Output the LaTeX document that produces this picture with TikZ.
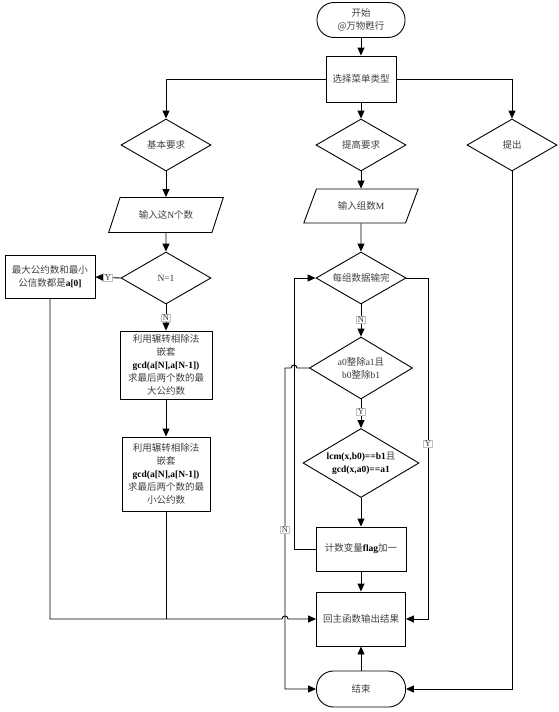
\documentclass[tikz,border=0pt]{standalone}
\usepackage{fontspec}
\setmainfont{Liberation Serif}
\newfontfamily\zhfont{Noto Sans CJK SC}
\newcommand{\zh}[1]{{\zhfont\color{black!75}#1}}
\usetikzlibrary{shapes.geometric,arrows.meta}

\tikzset{
  inicio/.style={draw, rounded corners=17pt, align=center, minimum width=88pt, minimum height=35pt},
  processo/.style={draw, rectangle, align=center, inner sep=2pt},
  decisao/.style={draw, diamond, shape aspect=1.7, inner sep=0pt, align=center},
  entrada/.style={draw, trapezium, trapezium left angle=64, trapezium right angle=116, trapezium stretches=true, minimum width=115pt, minimum height=35pt},
  rotulo/.style={fill=white, draw=black!25, inner sep=1pt, text=black!80, font=\fontsize{8.5}{9}\selectfont},
}

\begin{document}
\begin{tikzpicture}[x=1pt, y=-1pt, line width=0.9pt, >={Triangle[length=8pt,width=7pt]}, font=\fontsize{9.5}{13}\selectfont]  %Fluxograma
  \useasboundingbox (0,0) rectangle (558,712); %Moldura
      %Blocos
  \node[inicio] (ini) at (361,20) {\zh{开始}\\\zh{@万物甦行}};
  \node[processo, minimum width=70pt, minimum height=46pt] (menu) at (361,79) {\zh{选择菜单类型}};
  \node[decisao, minimum width=90pt, minimum height=52pt] (basico) at (166,145) {\zh{基本要求}};
  \node[decisao, minimum width=90pt, minimum height=52pt] (avanc) at (361,145) {\zh{提高要求}};
  \node[decisao, minimum width=90pt, minimum height=52pt] (sair) at (512,145) {\zh{提出}};
      %Coluna esquerda
  \node[entrada] (lerN) at (166,215) {\zh{输入这}\textcolor{black!80}{N}\zh{个数}};
  \node[decisao, minimum width=90pt, minimum height=52pt, text=black!80] (nUm) at (166,278) {N=1};
  \node[processo, minimum width=90pt, minimum height=43pt] (res0) at (50,277) {\zh{最大公约数和最小}\\\zh{公信数都是}\textbf{a[0]}};
  \node[processo, minimum width=92pt, minimum height=68pt] (mdc) at (166,365) {\zh{利用辗转相除法}\\\zh{嵌套}\\\textbf{gcd(a[N],a[N-1])}\\\zh{求最后两个数的最}\\\zh{大公约数}};
  \node[processo, minimum width=88pt, minimum height=74pt] (mmc) at (166,474) {\zh{利用辗转相除法}\\\zh{嵌套}\\\textbf{gcd(a[N],a[N-1])}\\\zh{求最后两个数的最}\\\zh{小公约数}};
      %Coluna central
  \node[entrada, minimum height=34pt] (lerM) at (361,206) {\zh{输入组数}\textcolor{black!80}{M}};
  \node[decisao, minimum width=90pt, minimum height=52pt] (cada) at (361,278) {\zh{每组数据输完}};
  \node[decisao, minimum width=103pt, minimum height=62pt, text=black!80] (divide) at (361,368) {a0\zh{整除}a1\zh{且}\\b0\zh{整除}b1};
  \node[decisao, minimum width=116pt, minimum height=69pt] (lcm) at (361,463) {\textbf{lcm(x,b0)==b1}\zh{且}\\\textbf{gcd(x,a0)==a1}};
  \node[processo, minimum width=90pt, minimum height=44pt] (conta) at (361,549) {\zh{计数变量}\textbf{flag}\zh{加一}};
  \node[processo, minimum width=89pt, minimum height=54pt] (saida) at (361,619) {\zh{回主函数输出结果}};
  \node[inicio, minimum width=89pt, minimum height=36pt] (fim) at (361,689) {\zh{结束}};
      %Pontos auxiliares
  \coordinate (voltaX) at (294,0); %Retorno do laço
  \coordinate (naoX) at (285,0);   %Saida N
  \coordinate (simX) at (428,0);   %Saida Y
  \coordinate (pulo1) at (297,368);
  \coordinate (pulo2) at (282,619);
      %Setas
  \draw[->] (ini) -- (menu);
  \draw[->] (menu.west) -| (basico.north);
  \draw[->] (menu) -- (avanc);
  \draw[->] (menu.east) -| (sair.north);
  \draw[->] (basico) -- (lerN);
  \draw[->] (lerN) -- (nUm);
  \draw[->] (nUm.west) -- (res0.east);
  \draw[->] (nUm) -- (mdc);
  \draw[->] (mdc) -- (mmc);
  \draw[->] (res0.south) |- (pulo2) arc[start angle=180, end angle=0, radius=3pt] -- (saida.west); %Salto sobre a linha N
  \draw (mmc.south) -- (mmc.south |- saida.west);
  \draw[->] (avanc) -- (lerM);
  \draw[->] (lerM) -- (cada);
  \draw[->] (cada) -- (divide);
  \draw[->] (divide) -- (lcm);
  \draw[->] (lcm) -- (conta);
  \draw[->] (conta) -- (saida);
  \draw[->] (conta.west) -- (conta.west -| voltaX) |- (cada.west); %Laço
  \draw[->] (divide.west) -- (pulo1) arc[start angle=0, end angle=180, radius=3pt] -- (divide.west -| naoX) |- (fim.west);
  \draw[->] (cada.east) -- (cada.east -| simX) |- (saida.east);
  \draw[->] (sair.south) |- (fim.east);
  \draw[->] (fim) -- (saida);
      %Rotulos
  \node[rotulo] (yUm) at (108,278) {Y};
  \node[rotulo] (nUmLbl) at (166,318) {N};
  \node[rotulo] (nCada) at (361,320) {N};
  \node[rotulo] (yDiv) at (361,412) {Y};
  \node[rotulo] (nDiv) at (285,530) {N};
  \node[rotulo] (yCada) at (428,444) {Y};
\end{tikzpicture}
\end{document}
